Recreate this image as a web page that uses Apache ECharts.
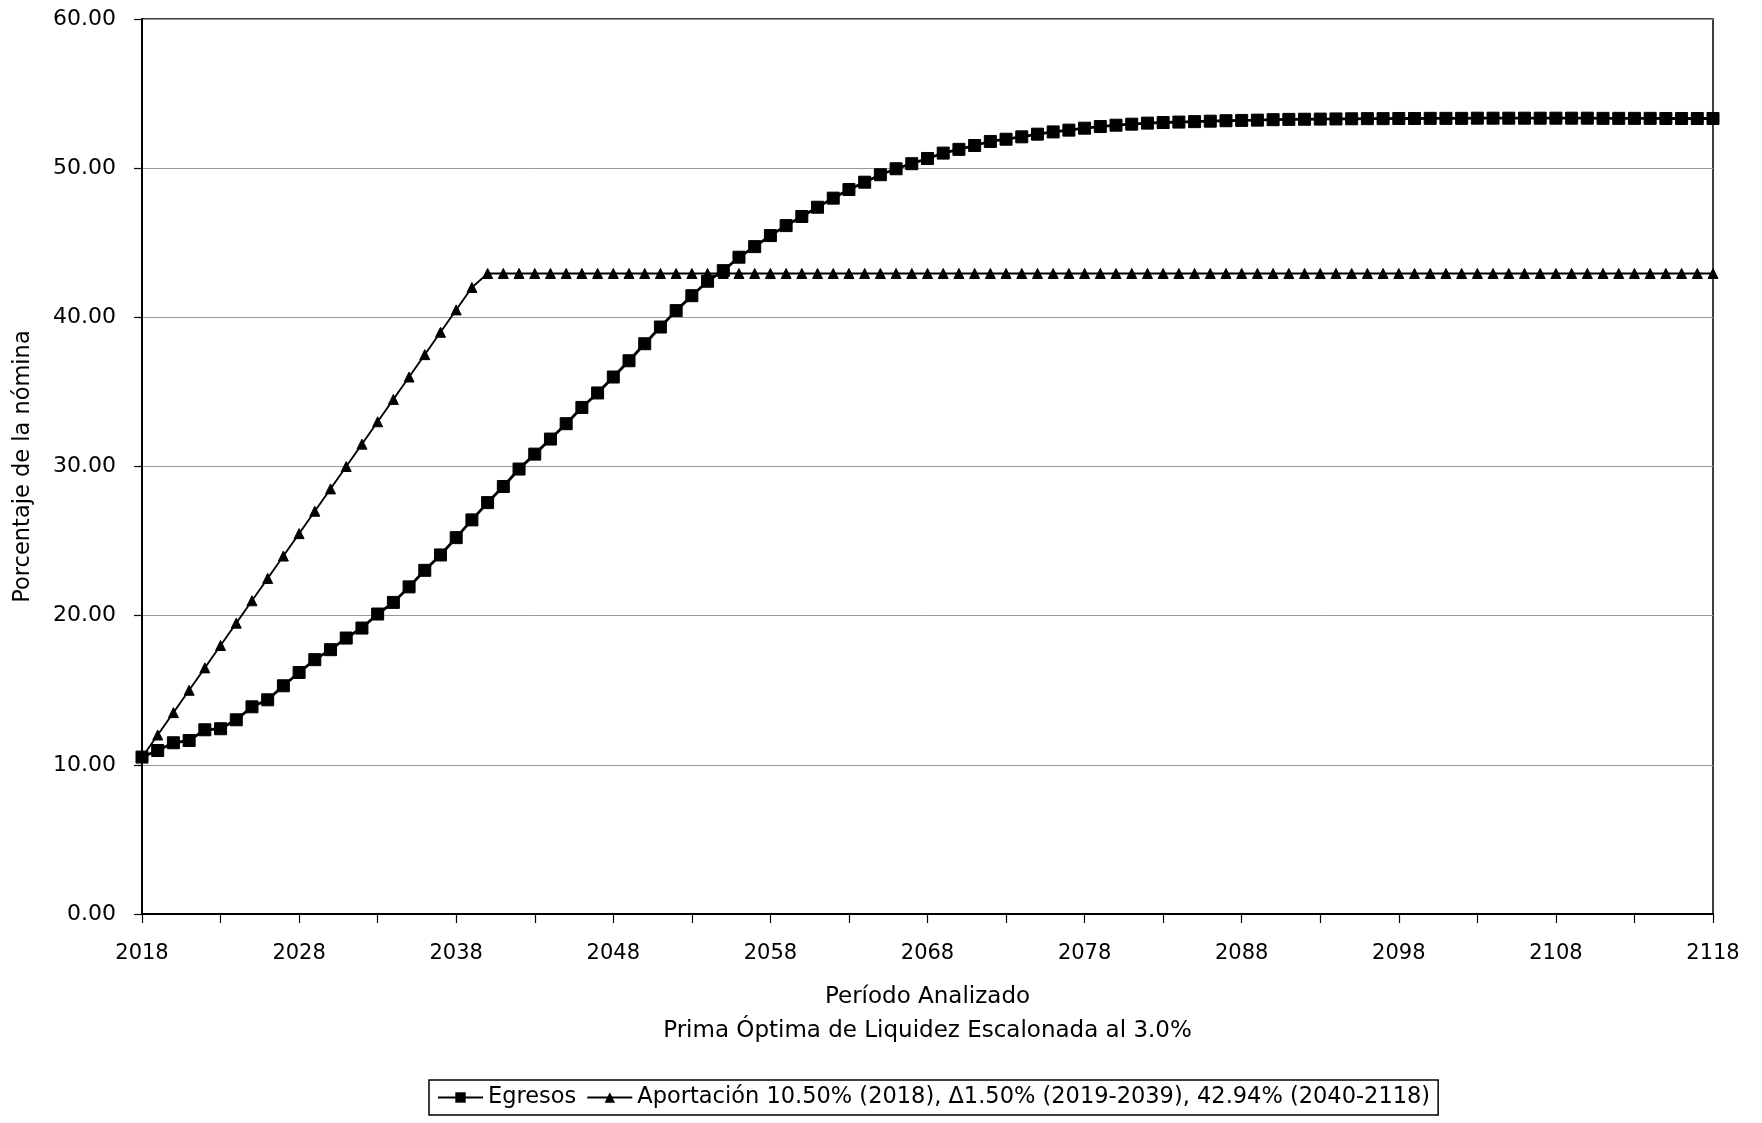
<!DOCTYPE html>
<html><head><meta charset="utf-8">
<script src="https://cdn.jsdelivr.net/npm/echarts@6/dist/echarts.min.js"></script>
<style>html,body{margin:0;padding:0;background:#fff}#c{width:1762px;height:1123px}</style>
</head><body><div id="c"></div>
<script>
const years = [
 2018,2019,2020,2021,2022,2023,2024,2025,2026,2027,
 2028,2029,2030,2031,2032,2033,2034,2035,2036,2037,
 2038,2039,2040,2041,2042,2043,2044,2045,2046,2047,
 2048,2049,2050,2051,2052,2053,2054,2055,2056,2057,
 2058,2059,2060,2061,2062,2063,2064,2065,2066,2067,
 2068,2069,2070,2071,2072,2073,2074,2075,2076,2077,
 2078,2079,2080,2081,2082,2083,2084,2085,2086,2087,
 2088,2089,2090,2091,2092,2093,2094,2095,2096,2097,
 2098,2099,2100,2101,2102,2103,2104,2105,2106,2107,
 2108,2109,2110,2111,2112,2113,2114,2115,2116,2117,
 2118
];
const egresos = [
 10.52,10.96,11.48,11.63,12.35,12.42,13.02,13.89,14.36,15.30,
 16.19,17.05,17.72,18.50,19.17,20.11,20.89,21.93,23.04,24.07,
 25.23,26.42,27.58,28.66,29.83,30.83,31.84,32.87,33.96,34.93,
 36.00,37.09,38.23,39.35,40.45,41.45,42.42,43.13,44.03,44.74,
 45.48,46.15,46.76,47.38,47.99,48.57,49.06,49.56,49.96,50.30,
 50.65,51.01,51.26,51.52,51.79,51.94,52.10,52.28,52.43,52.55,
 52.68,52.79,52.88,52.95,53.02,53.06,53.09,53.12,53.15,53.18,
 53.20,53.22,53.25,53.27,53.28,53.29,53.30,53.31,53.32,53.32,
 53.33,53.33,53.34,53.34,53.34,53.35,53.35,53.35,53.35,53.35,
 53.35,53.35,53.35,53.34,53.34,53.34,53.34,53.33,53.33,53.33,
 53.33
];
const aportacion = [
 10.50,12.00,13.50,15.00,16.50,18.00,19.50,21.00,22.50,24.00,
 25.50,27.00,28.50,30.00,31.50,33.00,34.50,36.00,37.50,39.00,
 40.50,42.00,42.94,42.94,42.94,42.94,42.94,42.94,42.94,42.94,
 42.94,42.94,42.94,42.94,42.94,42.94,42.94,42.94,42.94,42.94,
 42.94,42.94,42.94,42.94,42.94,42.94,42.94,42.94,42.94,42.94,
 42.94,42.94,42.94,42.94,42.94,42.94,42.94,42.94,42.94,42.94,
 42.94,42.94,42.94,42.94,42.94,42.94,42.94,42.94,42.94,42.94,
 42.94,42.94,42.94,42.94,42.94,42.94,42.94,42.94,42.94,42.94,
 42.94,42.94,42.94,42.94,42.94,42.94,42.94,42.94,42.94,42.94,
 42.94,42.94,42.94,42.94,42.94,42.94,42.94,42.94,42.94,42.94,
 42.94
];
const seriesNames = ['Egresos', 'Aportación 10.50% (2018), Δ1.50% (2019-2039), 42.94% (2040-2118)'];
const yMin = 0, yMax = 60, yStep = 10;
const xTitle = 'Período Analizado\nPrima Óptima de Liquidez Escalonada al 3.0%';
const yTitle = 'Porcentaje de la nómina';

const FONT = 'DejaVu Sans';
const chart = echarts.init(document.getElementById('c'), null, {renderer: 'canvas'});
chart.setOption({
  animation: false,
  backgroundColor: '#fff',
  textStyle: {fontFamily: FONT, color: '#000'},
  grid: {left: 142, right: 49, top: 19, bottom: 209, show: true, borderColor: '#000', borderWidth: 1.5},
  xAxis: {
    type: 'category', data: years, boundaryGap: false,
    axisLine: {lineStyle: {color: '#000', width: 2}},
    axisTick: {show: true, interval: 4, length: 9, lineStyle: {color: '#000', width: 1.2}},
    axisLabel: {interval: 9, margin: 29, color: '#000', fontSize: 21, fontFamily: FONT},
    splitLine: {show: false},
    name: xTitle, nameLocation: 'middle', nameGap: 66,
    nameTextStyle: {fontSize: 23, lineHeight: 34, color: '#000', fontFamily: FONT}
  },
  yAxis: {
    type: 'value', min: yMin, max: yMax, interval: yStep,
    axisLine: {show: true, lineStyle: {color: '#000', width: 2}},
    axisTick: {show: true, length: 8, lineStyle: {color: '#000', width: 1.2}},
    axisLabel: {formatter: v => v.toFixed(2), margin: 26, color: '#000', fontSize: 22, fontFamily: FONT},
    splitLine: {show: true, lineStyle: {color: '#999', width: 1}},
    name: yTitle, nameLocation: 'middle', nameGap: 107,
    nameTextStyle: {fontSize: 22.5, color: '#000', fontFamily: FONT}
  },
  legend: {
    left: 429, top: 1080, orient: 'horizontal',
    itemWidth: 45, itemHeight: 13, itemGap: 10,
    padding: [6, 8], borderColor: '#000', borderWidth: 1.5,
    textStyle: {fontSize: 22.5, color: '#000', fontFamily: FONT},
    data: seriesNames
  },
  series: [
    {
      name: seriesNames[0], type: 'line', data: egresos,
      symbol: 'rect', symbolSize: 12, showAllSymbol: true,
      lineStyle: {color: '#000', width: 2.8},
      itemStyle: {color: '#000', borderColor: '#000'}
    },
    {
      name: seriesNames[1], type: 'line', data: aportacion,
      symbol: 'triangle', symbolSize: 10, showAllSymbol: true,
      lineStyle: {color: '#000', width: 1.8},
      itemStyle: {color: '#000', borderColor: '#000'}
    }
  ]
});
</script>
</body></html>
